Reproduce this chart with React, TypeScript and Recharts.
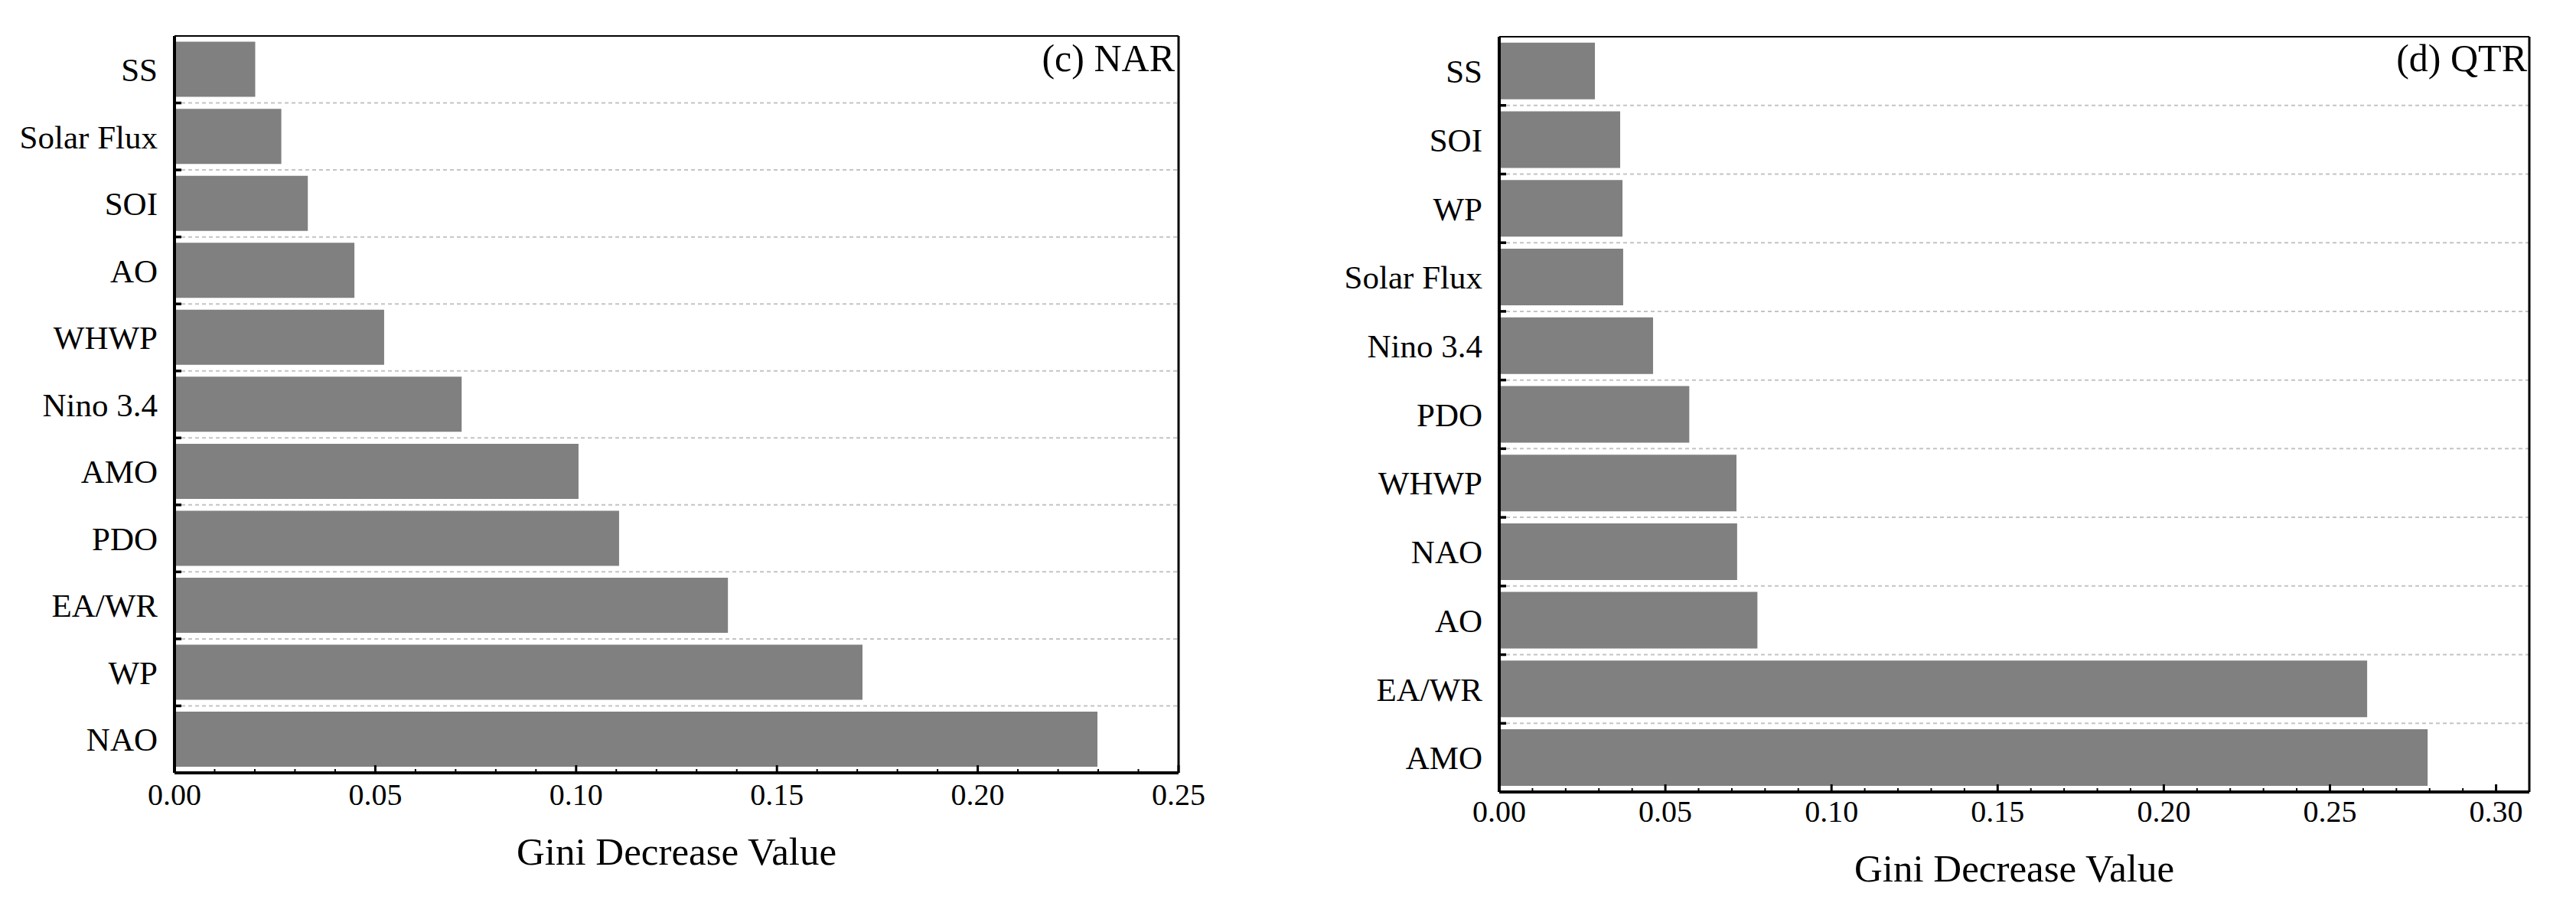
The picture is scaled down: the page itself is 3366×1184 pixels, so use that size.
import React from 'react'
import { BarChart, Bar, XAxis, YAxis, CartesianGrid, ReferenceLine } from 'recharts'

// (c) NAR, top to bottom
const narCategories = ['SS', 'Solar Flux', 'SOI', 'AO', 'WHWP', 'Nino 3.4', 'AMO', 'PDO', 'EA/WR', 'WP', 'NAO']
const narValues = [0.0201, 0.0266, 0.0332, 0.0448, 0.0522, 0.0715, 0.1006, 0.1107, 0.1378, 0.1713, 0.2298]
const narTicks = [
  0, 0.01, 0.02, 0.03, 0.04, 0.05, 0.06, 0.07, 0.08, 0.09, 0.1, 0.11, 0.12, 0.13,
  0.14, 0.15, 0.16, 0.17, 0.18, 0.19, 0.2, 0.21, 0.22, 0.23, 0.24, 0.25,
]

// (d) QTR, top to bottom
const qtrCategories = ['SS', 'SOI', 'WP', 'Solar Flux', 'Nino 3.4', 'PDO', 'WHWP', 'NAO', 'AO', 'EA/WR', 'AMO']
const qtrValues = [0.0288, 0.0364, 0.0371, 0.0373, 0.0463, 0.0572, 0.0714, 0.0716, 0.0777, 0.2612, 0.2794]
const qtrTicks = [
  0, 0.01, 0.02, 0.03, 0.04, 0.05, 0.06, 0.07, 0.08, 0.09, 0.1, 0.11, 0.12, 0.13,
  0.14, 0.15, 0.16, 0.17, 0.18, 0.19, 0.2, 0.21, 0.22, 0.23, 0.24, 0.25, 0.26,
  0.27, 0.28, 0.29, 0.3,
]

const FONT = '"Liberation Serif", "Times New Roman", serif'

function makeXTick(gap: number) {
  return function XTick(props: any) {
    const { x, y, payload } = props
    const axisY = y - gap
    const major = Math.round(payload.value * 100) % 5 === 0
    return (
      <g>
        <line x1={x} x2={x} y1={axisY} y2={axisY - (major ? 10 : 5)} stroke="#000" strokeWidth={major ? 3 : 2} />
        {major && (
          <text x={x} y={y} dy="0.71em" textAnchor="middle" fontSize={40} fontFamily={FONT} fill="#000">
            {payload.value.toFixed(2)}
          </text>
        )}
      </g>
    )
  }
}

// grid lines sit on the band edges: top frame + the 10 inner boundaries
function bandEdges(count: number) {
  return ({ offset }: any) => {
    const step = offset.height / count
    const out: number[] = []
    for (let i = 0; i < count; i++) out.push(offset.top + i * step)
    return out
  }
}

function GridLine(props: any) {
  const { x1, x2, y1, index } = props
  if (index === 0) {
    return <line x1={x1} x2={x2} y1={y1} y2={y1} stroke="#000" strokeWidth={2} />
  }
  return (
    <g>
      <line x1={x1} x2={x2} y1={y1} y2={y1} stroke="#c4c4c4" strokeWidth={2} strokeDasharray="5 4" />
      <line x1={x1 - 1} x2={x1 + 9} y1={y1} y2={y1} stroke="#000" strokeWidth={3.5} />
    </g>
  )
}

interface PanelProps {
  categories: string[]
  values: number[]
  ticks: number[]
  xMax: number
  width: number
  margin: { top: number; right: number; bottom: number; left: number }
  yAxisWidth: number
  tickGap: number
  titleOffset: number
}

function Panel({ categories, values, ticks, xMax, width, margin, yAxisWidth, tickGap, titleOffset }: PanelProps) {
  const data = categories.map((name, i) => ({ name, value: values[i] }))
  return (
    <BarChart width={width} height={1184} data={data} layout="vertical" margin={margin} barCategoryGap="8.7%">
      <CartesianGrid
        vertical={false}
        horizontal={(p: any) => <GridLine key={p.key ?? p.index} {...p} />}
        horizontalCoordinatesGenerator={bandEdges(categories.length)}
      />
      <YAxis
        type="category"
        dataKey="name"
        width={yAxisWidth}
        tickLine={false}
        tickSize={0}
        tickMargin={22}
        axisLine={{ stroke: '#000', strokeWidth: 4 }}
        tick={{ fontSize: 43, fill: '#000', fontFamily: FONT }}
        interval={0}
      />
      <XAxis
        type="number"
        domain={[0, xMax]}
        ticks={ticks}
        interval={0}
        allowDataOverflow
        height={130}
        tickSize={0}
        tickMargin={tickGap}
        tickLine={false}
        axisLine={{ stroke: '#000', strokeWidth: 4 }}
        tick={makeXTick(tickGap)}
        label={{
          value: 'Gini Decrease Value',
          position: 'insideBottom',
          offset: titleOffset,
          style: { fontSize: 51, fill: '#000', fontFamily: FONT },
        }}
      />
      <ReferenceLine x={xMax} stroke="#000" strokeWidth={3} ifOverflow="visible" />
      <Bar dataKey="value" fill="#808080" isAnimationActive={false} />
    </BarChart>
  )
}

const panelTitle: React.CSSProperties = {
  position: 'absolute',
  top: 51,
  left: 0,
  textAlign: 'right',
  fontSize: 50,
  lineHeight: '50px',
  fontFamily: FONT,
  color: '#000',
}

export default function App() {
  return (
    <div style={{ position: 'absolute', left: 0, top: 0, width: 3366, height: 1184, background: '#fff', overflow: 'hidden' }}>
      <div style={{ position: 'absolute', left: 0, top: 0 }}>
        <Panel
          categories={narCategories}
          values={narValues}
          ticks={narTicks}
          xMax={0.25}
          width={1600}
          margin={{ top: 47, right: 60, bottom: 44, left: 0 }}
          yAxisWidth={228}
          tickGap={14}
          titleOffset={10}
        />
      </div>
      <div style={{ position: 'absolute', left: 1640, top: 0 }}>
        <Panel
          categories={qtrCategories}
          values={qtrValues}
          ticks={qtrTicks}
          xMax={0.31}
          width={1726}
          margin={{ top: 48, right: 61, bottom: 19, left: 0 }}
          yAxisWidth={319}
          tickGap={11}
          titleOffset={13}
        />
      </div>
      <div style={{ ...panelTitle, width: 1535 }}>(c) NAR</div>
      <div style={{ ...panelTitle, width: 3302 }}>(d) QTR</div>
    </div>
  )
}
